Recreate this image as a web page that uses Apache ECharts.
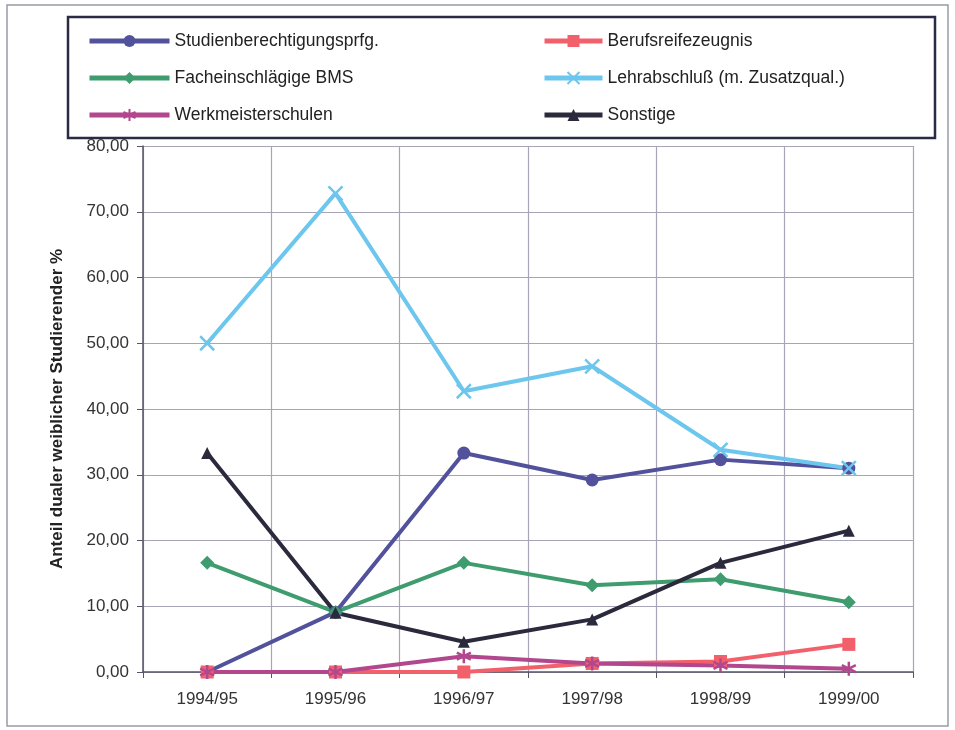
<!DOCTYPE html>
<html>
<head>
<meta charset="utf-8">
<script src="https://cdn.jsdelivr.net/npm/echarts@6/dist/echarts.min.js"></script>
<style>
  html, body { margin: 0; padding: 0; background: #fff; }
  #chart { width: 955px; height: 730px; }
</style>
</head>
<body>
<div id="chart"></div>
<script>
// Jahrgaenge
var years = ['1994/95', '1995/96', '1996/97', '1997/98', '1998/99', '1999/00']
// Anteile in %, je Zugangsart
var studienberechtigung = [0, 9.1, 33.3, 29.2, 32.3, 31.0]
var berufsreife = [0, 0, 0, 1.3, 1.6, 4.2]
var facheinschlaegig = [16.6, 9.1, 16.6, 13.2, 14.1, 10.6]
var lehrabschluss = [50.0, 72.8, 42.7, 46.5, 33.8, 31.0]
var werkmeister = [0, 0, 2.4, 1.3, 1.0, 0.5]
var sonstige = [33.3, 9.0, 4.6, 8.0, 16.6, 21.5]
var yTicks = [0, 10, 20, 30, 40, 50, 60, 70, 80]

var font = 'Arial, "Liberation Sans", sans-serif'

function line (name, data, color, symbol, size, stroke) {
  return {
    name: name,
    type: 'line',
    data: data,
    symbol: symbol,
    symbolSize: size,
    lineStyle: { color: color, width: 4 },
    itemStyle: stroke
      ? { color: color, borderColor: color, borderWidth: 2.5 }
      : { color: color },
    z: 3
  }
}

var legendBase = {
  orient: 'vertical', top: 27, itemGap: 19,
  itemHeight: 15, z: 20,
  lineStyle: { width: 5 },
  textStyle: { fontSize: 17.5, color: '#222', fontFamily: font }
}

var chart = echarts.init(document.getElementById('chart'))
var option = {
  animation: false,
  backgroundColor: '#fff',
  textStyle: { fontFamily: font },
  graphic: [
    { type: 'rect', shape: { x: 7, y: 5, width: 941, height: 721 },
      style: { fill: 'none', stroke: '#9a9aa8', lineWidth: 1.5 }, z: -1 },
    { type: 'rect', shape: { x: 68, y: 17, width: 867, height: 121 },
      style: { fill: '#fff', stroke: '#2a2a44', lineWidth: 2.5 }, z: 10 }
  ],
  legend: [
    Object.assign({}, legendBase, {
      left: 82, itemWidth: 80,
      data: ['Studienberechtigungsprfg.', 'Facheinschlägige BMS', 'Werkmeisterschulen']
    }),
    Object.assign({}, legendBase, {
      left: 537, itemWidth: 58,
      data: ['Berufsreifezeugnis', 'Lehrabschluß (m. Zusatzqual.)', 'Sonstige']
    })
  ],
  grid: { left: 143, right: 42, top: 146, bottom: 58 },
  xAxis: {
    type: 'category',
    data: years,
    boundaryGap: true,
    axisLine: { lineStyle: { color: '#555566', width: 1.5 } },
    axisTick: { show: true, length: 6, lineStyle: { color: '#555566' } },
    axisLabel: { fontSize: 17, color: '#333', margin: 19 },
    splitLine: { show: true, lineStyle: { color: '#a8a4b8', width: 1.2 } }
  },
  yAxis: {
    type: 'value',
    min: yTicks[0],
    max: yTicks[yTicks.length - 1],
    interval: 10,
    name: 'Anteil dualer weiblicher Studierender %',
    nameLocation: 'middle',
    nameGap: 77,
    nameTextStyle: { fontSize: 17, fontWeight: 'bold', color: '#222' },
    axisLine: { show: true, lineStyle: { color: '#555566', width: 1.5 } },
    axisTick: { show: true, length: 6, lineStyle: { color: '#555566' } },
    axisLabel: {
      fontSize: 17, color: '#333', margin: 14,
      formatter: function (v) { return v.toFixed(2).replace('.', ',') }
    },
    splitLine: { show: true, lineStyle: { color: '#a8a4b8', width: 1.2 } }
  },
  series: [
    line('Studienberechtigungsprfg.', studienberechtigung, '#52529c', 'circle', 13),
    line('Berufsreifezeugnis', berufsreife, '#f2606c', 'rect', 13),
    line('Facheinschlägige BMS', facheinschlaegig, '#3e9c6e', 'diamond', 14),
    line('Lehrabschluß (m. Zusatzqual.)', lehrabschluss, '#6cc6ee',
      'path://M0,0L10,10M10,0L0,10', 14, true),
    line('Werkmeisterschulen', werkmeister, '#b2478e',
      'path://M5,0L5,10M0,2.5L10,7.5M0,7.5L10,2.5', 14, true),
    line('Sonstige', sonstige, '#2a2a3c', 'triangle', 12)
  ]
}
chart.setOption(option)
</script>
</body>
</html>
